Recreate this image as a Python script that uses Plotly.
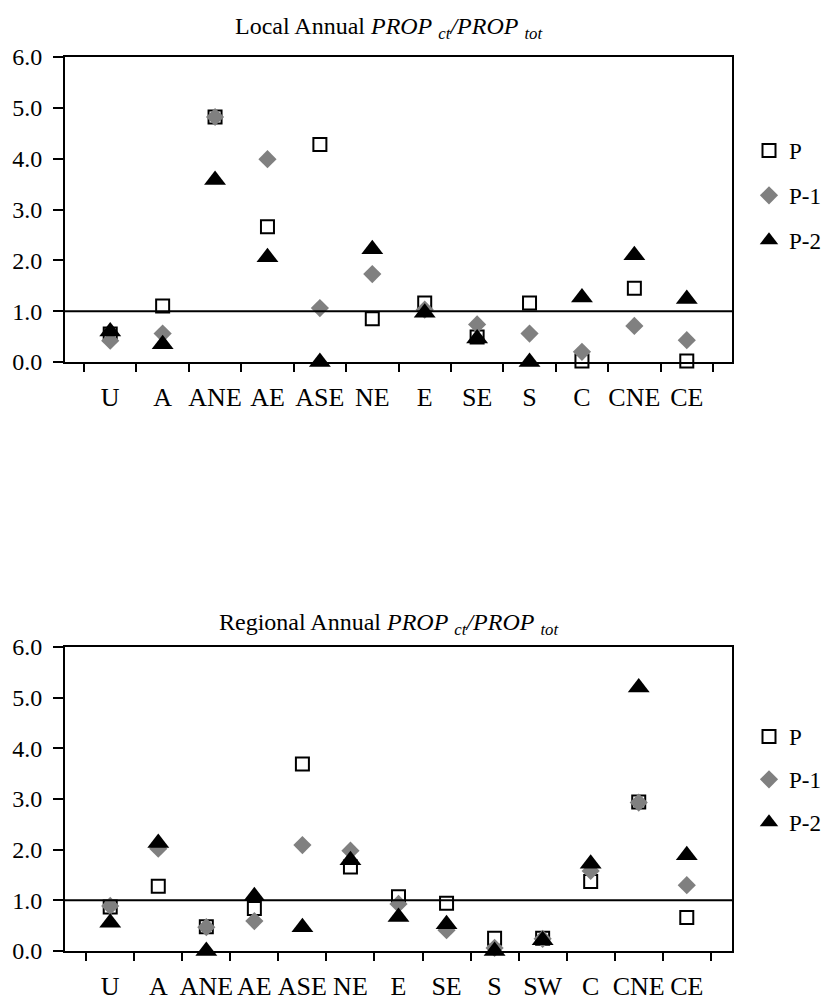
import plotly.graph_objects as go

# Local annual ratios
local_cats = ["U", "A", "ANE", "AE", "ASE", "NE", "E", "SE", "S", "C", "CNE", "CE"]
local_p = [0.55, 1.10, 4.82, 2.66, 4.28, 0.85, 1.16, 0.49, 1.16, 0.02, 1.45, 0.02]
local_p1 = [0.42, 0.56, 4.82, 3.99, 1.06, 1.73, 1.03, 0.74, 0.56, 0.20, 0.71, 0.43]
local_p2 = [0.60, 0.35, 3.58, 2.06, 0.00, 2.22, 0.97, 0.46, 0.00, 1.27, 2.10, 1.24]

# Regional annual ratios
reg_cats = ["U", "A", "ANE", "AE", "ASE", "NE", "E", "SE", "S", "SW", "C", "CNE", "CE"]
reg_p = [0.87, 1.28, 0.48, 0.84, 3.69, 1.66, 1.07, 0.94, 0.25, 0.25, 1.37, 2.94, 0.66]
reg_p1 = [0.89, 2.02, 0.47, 0.59, 2.09, 1.98, 0.93, 0.41, 0.06, 0.24, 1.58, 2.93, 1.30]
reg_p2 = [0.56, 2.13, 0.00, 1.08, 0.47, 1.79, 0.67, 0.53, 0.00, 0.21, 1.72, 5.20, 1.89]

series_names = ["P", "P-1", "P-2"]
y_ticks = [0.0, 1.0, 2.0, 3.0, 4.0, 5.0, 6.0]
REF_LEVEL = 1.0

W, H = 831, 1002
ML, MR = 65, 99
PLOT_W = W - ML - MR
FONT = "Liberation Serif, Times New Roman, Times, serif"

def ypaper(px):
    return 1 - px / H

def xpaper(px):
    return (px - ML) / PLOT_W

markers = [
    dict(symbol="square", size=13, color="white", line=dict(color="black", width=2)),
    dict(symbol="diamond", size=14, color="#808080", line=dict(width=0)),
    dict(symbol="triangle-up", size=19, color="black", line=dict(width=0)),
]

fig = go.Figure()

panels = [
    (local_cats, [local_p, local_p1, local_p2], "x", "y", "legend"),
    (reg_cats, [reg_p, reg_p1, reg_p2], "x2", "y2", "legend2"),
]
for cats, series, xa, ya, lg in panels:
    for name, vals, mk in zip(series_names, series, markers):
        fig.add_trace(go.Scatter(
            x=cats, y=vals, mode="markers", name=name, marker=mk,
            xaxis=xa, yaxis=ya, legend=lg, legendgroup=lg + name,
            cliponaxis=False, showlegend=True,
        ))

axis_common = dict(
    showline=True, linecolor="black", linewidth=2, mirror=True,
    ticks="outside", tickcolor="black", tickwidth=1.5,
    showgrid=False, zeroline=False, automargin=False,
)
xtick_font = dict(family=FONT, size=26, color="black")
ytick_font = dict(family=FONT, size=24, color="black")
legend_font = dict(family=FONT, size=23, color="black")

fig.update_layout(
    width=W, height=H,
    margin=dict(l=ML, r=MR, t=0, b=0, autoexpand=False),
    paper_bgcolor="white", plot_bgcolor="white",
    font=dict(family=FONT, color="black"),
    xaxis=dict(**axis_common, type="category", categoryorder="array",
               categoryarray=local_cats, tickson="boundaries", ticklen=8,
               tickangle=0, ticklabelstandoff=11, anchor="y",
               tickfont=xtick_font, domain=[0, 1]),
    yaxis=dict(**axis_common, range=[0, 6], tickvals=y_ticks,
               tickformat=".1f", ticklen=10, ticklabelstandoff=6,
               tickfont=ytick_font,
               domain=[ypaper(362), ypaper(57)], anchor="x"),
    xaxis2=dict(**axis_common, type="category", categoryorder="array",
                categoryarray=reg_cats, tickson="boundaries", ticklen=8,
                tickangle=0, ticklabelstandoff=11, anchor="y2",
                tickfont=xtick_font, domain=[0, 1]),
    yaxis2=dict(**axis_common, range=[0, 6], tickvals=y_ticks,
                tickformat=".1f", ticklen=10, ticklabelstandoff=6,
                tickfont=ytick_font,
                domain=[ypaper(951), ypaper(647)], anchor="x2"),
    legend=dict(x=xpaper(749), y=ypaper(129), xanchor="left", yanchor="top",
                font=legend_font, tracegroupgap=12, traceorder="grouped",
                itemsizing="trace"),
    legend2=dict(x=xpaper(749), y=ypaper(715), xanchor="left", yanchor="top",
                 font=legend_font, tracegroupgap=10, traceorder="grouped",
                 itemsizing="trace"),
    showlegend=True,
)

# Reference level line at 1.0 across each panel
for xr, yr in [("x domain", "y"), ("x2 domain", "y2")]:
    fig.add_shape(type="line", xref=xr, yref=yr, x0=0, x1=1,
                  y0=REF_LEVEL, y1=REF_LEVEL,
                  line=dict(color="black", width=2))

titles = [
    ("Local Annual <i>PROP</i> <sub><i>ct</i></sub><i>/PROP</i> <sub><i>tot</i></sub>", 28),
    ("Regional Annual <i>PROP</i> <sub><i>ct</i></sub><i>/PROP</i> <sub><i>tot</i></sub>", 624),
]
for text, ypx in titles:
    fig.add_annotation(text=text, xref="paper", yref="paper",
                       x=xpaper(388), y=ypaper(ypx), xanchor="center",
                       yanchor="middle", showarrow=False,
                       font=dict(family=FONT, size=24, color="black"))

fig.write_html("out.html")
